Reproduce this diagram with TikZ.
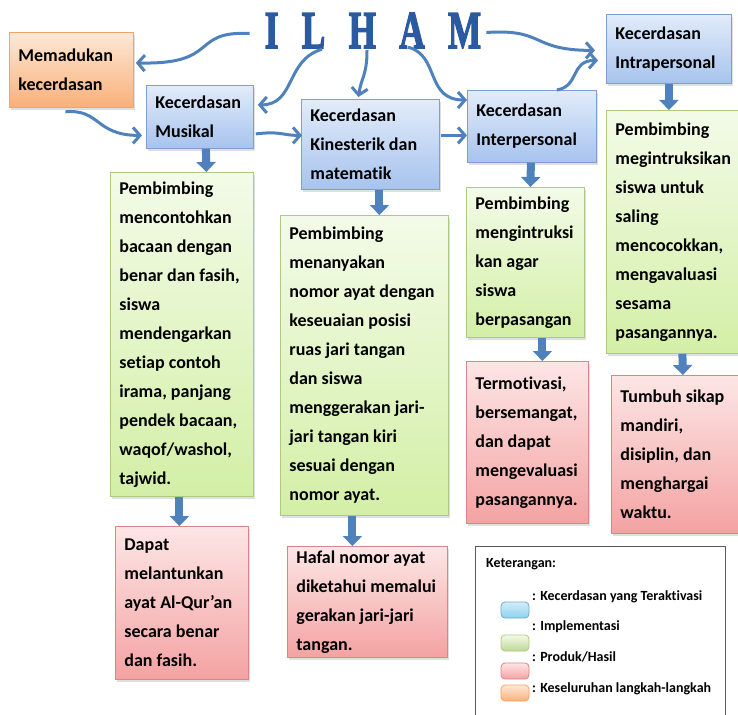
\documentclass[tikz,border=0pt]{standalone}
\usepackage{fontspec}
\setmainfont{Carlito}[Ligatures={TeX,NoCommon}]
\newfontfamily\titlefont{Liberation Serif}[BoldFeatures={FakeBold=3}]
\usetikzlibrary{arrows.meta,calc,shadows}

\definecolor{linkblue}{HTML}{4F81BD}
\definecolor{titleblue}{HTML}{2C5AA0}
\definecolor{bluetop}{HTML}{E2ECFA}
\definecolor{bluebot}{HTML}{A7C3EE}
\definecolor{blueline}{HTML}{7E9FCF}
\definecolor{greentop}{HTML}{F3FBE8}
\definecolor{greenbot}{HTML}{D3EFA6}
\definecolor{greenline}{HTML}{ADCB80}
\definecolor{redtop}{HTML}{FDE6E6}
\definecolor{redbot}{HTML}{F4A2A2}
\definecolor{redline}{HTML}{D98585}
\definecolor{orangetop}{HTML}{FEE8D6}
\definecolor{orangebot}{HTML}{F9B07A}
\definecolor{orangeline}{HTML}{F6A263}
\definecolor{cyantop}{HTML}{D2EEFA}
\definecolor{cyanbot}{HTML}{8FD0EE}
\definecolor{cyanline}{HTML}{6FA9CC}

\tikzset{
  box/.style={anchor=north west, align=flush left, line width=0.8pt,
    inner xsep=9pt, inner ysep=2pt,
    font=\bfseries\fontsize{18}{29}\selectfont,
    drop shadow={shadow xshift=2pt, shadow yshift=-2.5pt, opacity=0.25}},
  kecerdasan/.style={box, draw=blueline, top color=bluetop, bottom color=bluebot},
  implementasi/.style={box, draw=greenline, top color=greentop, bottom color=greenbot},
  hasil/.style={box, draw=redline, top color=redtop, bottom color=redbot},
  langkah/.style={box, draw=orangeline, top color=orangetop, bottom color=orangebot},
  link/.style={draw=linkblue, line width=3pt, -{Straight Barb[length=7pt, width=16pt]}},
  blockarrow/.style={draw=linkblue, line width=8pt, -{Triangle[length=10pt, width=19pt]}},
  swatch/.style={minimum width=28pt, minimum height=16pt, rounded corners=4pt,
    line width=0.8pt, inner sep=0pt},
  keytext/.style={anchor=base west, inner sep=0pt, font=\bfseries\fontsize{14}{16}\selectfont},
}

\begin{document}
\begin{tikzpicture}[x=1pt, y=-1pt]
  \useasboundingbox (0,0) rectangle (738,714);
  \clip (0,0) rectangle (738,714);

  % Title
  \node[font=\titlefont\bfseries\fontsize{53}{53}\selectfont, text=titleblue,
    anchor=base, inner sep=0pt] (ilham) at (373,48)
    {\scalebox{0.66}[1]{I\hspace{35.6pt}L\hspace{35.6pt}H\hspace{35.6pt}A\hspace{35.6pt}M}};

  % Kecerdasan yang teraktivasi
  \node[langkah, text width=106pt, minimum height=75pt] (blend) at (9,32) {Memadukan\\kecerdasan};
  \node[kecerdasan, text width=89pt, minimum height=63pt] (musikal) at (146,85) {Kecerdasan\\Musikal};
  \node[kecerdasan, text width=120pt, minimum height=90pt] (kinestetik) at (301,99) {Kecerdasan\\Kinesterik dan\\matematik};
  \node[kecerdasan, text width=111pt, minimum height=72pt] (inter) at (467,90) {Kecerdasan\\Interpersonal};
  \node[kecerdasan, text width=107pt, minimum height=69pt] (intra) at (606,14) {Kecerdasan\\Intrapersonal};

  % Implementasi
  \node[implementasi, text width=125pt, minimum height=324pt] (impl1) at (110,172)
    {Pembimbing\\mencontohkan\\bacaan dengan\\benar dan fasih,\\siswa\\mendengarkan\\setiap contoh\\irama, panjang\\pendek bacaan,\\waqof/washol,\\tajwid.};
  \node[implementasi, text width=150pt, minimum height=300pt] (impl2) at (280,215)
    {Pembimbing\\menanyakan\\nomor ayat dengan\\keseuaian posisi\\ruas jari tangan\\dan siswa\\menggerakan jari-\\jari tangan kiri\\sesuai dengan\\nomor ayat.};
  \node[implementasi, text width=100pt, minimum height=150pt] (impl3) at (466,187)
    {Pembimbing\\mengintruksi\\kan agar\\siswa\\berpasangan};
  \node[implementasi, text width=122pt, minimum height=243pt] (impl4) at (606,110)
    {Pembimbing\\megintruksikan\\siswa untuk\\saling\\mencocokkan,\\mengavaluasi\\sesama\\pasangannya.};

  % Produk/Hasil
  \node[hasil, text width=115pt, minimum height=153pt] (hasil1) at (115,526)
    {Dapat\\melantunkan\\ayat Al-Qur’an\\secara benar\\dan fasih.};
  \node[hasil, text width=142pt, minimum height=111pt] (hasil2) at (287,546)
    {Hafal nomor ayat\\diketahui memalui\\gerakan jari-jari\\tangan.};
  \node[hasil, text width=104pt, minimum height=162pt] (hasil3) at (466,361)
    {Termotivasi,\\bersemangat,\\dan dapat\\mengevaluasi\\pasangannya.};
  \node[hasil, text width=117pt, minimum height=158pt] (hasil4) at (611,375)
    {Tumbuh sikap\\mandiri,\\disiplin, dan\\menghargai\\waktu.};

  % Legend
  \node[draw=black!65, line width=1.2pt, anchor=north west, minimum width=250pt,
    minimum height=175pt, inner sep=0pt] (legend) at (475,546) {};
  \node[keytext] (ket) at (486,567) {Keterangan:};
  \node[swatch, draw=cyanline, top color=cyantop, bottom color=cyanbot] (swbiru) at (515,610) {};
  \node[swatch, draw=greenline, top color=greentop, bottom color=greenbot!90!black] (swhijau) at (515,643) {};
  \node[swatch, draw=redline, top color=redtop, bottom color=redbot] (swmerah) at (515,671) {};
  \node[swatch, draw=orangeline, top color=orangetop, bottom color=orangebot] (swjingga) at (515,693) {};
  \node[keytext] (kbiru) at (532,600) {: Kecerdasan yang Teraktivasi};
  \node[keytext] (khijau) at (532,630) {: Implementasi};
  \node[keytext] (kmerah) at (532,661) {: Produk/Hasil};
  \node[keytext] (kjingga) at (532,692) {: Keseluruhan langkah-langkah};

  % Curved links
  \draw[link] ($(ilham.west)+(-15,3)$) .. controls +(-60,-3) and +(85,2) .. ($(blend.east)+(2,-7)$);
  \draw[link] ($(ilham.south)+(-51,1)$) .. controls +(-37,11) and +(38,0) .. ($(musikal.east)+(4,-12)$);
  \draw[link] ($(ilham.south)+(-6,2)$) .. controls +(0,25) and +(3,-20) .. ($(kinestetik.north)+(-12,-2)$);
  \draw[link] ($(ilham.south)+(35,-1)$) .. controls +(32,8) and +(-42,0) .. ($(inter.north west)+(0,10)$);
  \draw[link] ($(ilham.east)+(5,2)$) .. controls +(59,-4) and +(-65,0) .. ($(intra.west)+(-11,1.5)$);
  \draw[link] ($(inter.north)+(25,0)$) .. controls +(23,-4) and +(-28,0) .. ($(intra.west)+(-8,11.5)$);
  \draw[link] ($(blend.south)+(-6,4)$) .. controls +(35,-3) and +(-47,0) .. ($(musikal.west)+(-4,18.5)$);
  \draw[link] ($(musikal.east)+(2,17)$) .. controls +(25,-3) and +(-20,0) .. ($(kinestetik.west)+(1,-9)$);
  \draw[link] ($(kinestetik.east)+(1,-9)$) -- ($(inter.west)+(0,9)$);

  % Block arrows
  \draw[blockarrow] ($(musikal.south)+(6,0)$) -- ($(impl1.north)+(24.5,0)$);
  \draw[blockarrow] ($(kinestetik.south)+(9,0)$) -- ($(impl2.north)+(15,0)$);
  \draw[blockarrow] ($(inter.south)+(-1,0)$) -- ($(impl3.north)+(5,0)$);
  \draw[blockarrow] (intra.south) -- ($(impl4.north)+(-7.5,0)$);
  \draw[blockarrow] ($(impl1.south)+(-2.5,0)$) -- ($(hasil1.north)+(-2.5,0)$);
  \draw[blockarrow] ($(impl2.south)+(-12,0)$) -- ($(hasil2.north)+(-15,0)$);
  \draw[blockarrow] ($(impl3.south)+(17,0)$) -- ($(hasil3.north)+(15,0)$);
  \draw[blockarrow] ($(impl4.south)+(6,0)$) -- ($(hasil4.north)+(4,0)$);
\end{tikzpicture}
\end{document}
